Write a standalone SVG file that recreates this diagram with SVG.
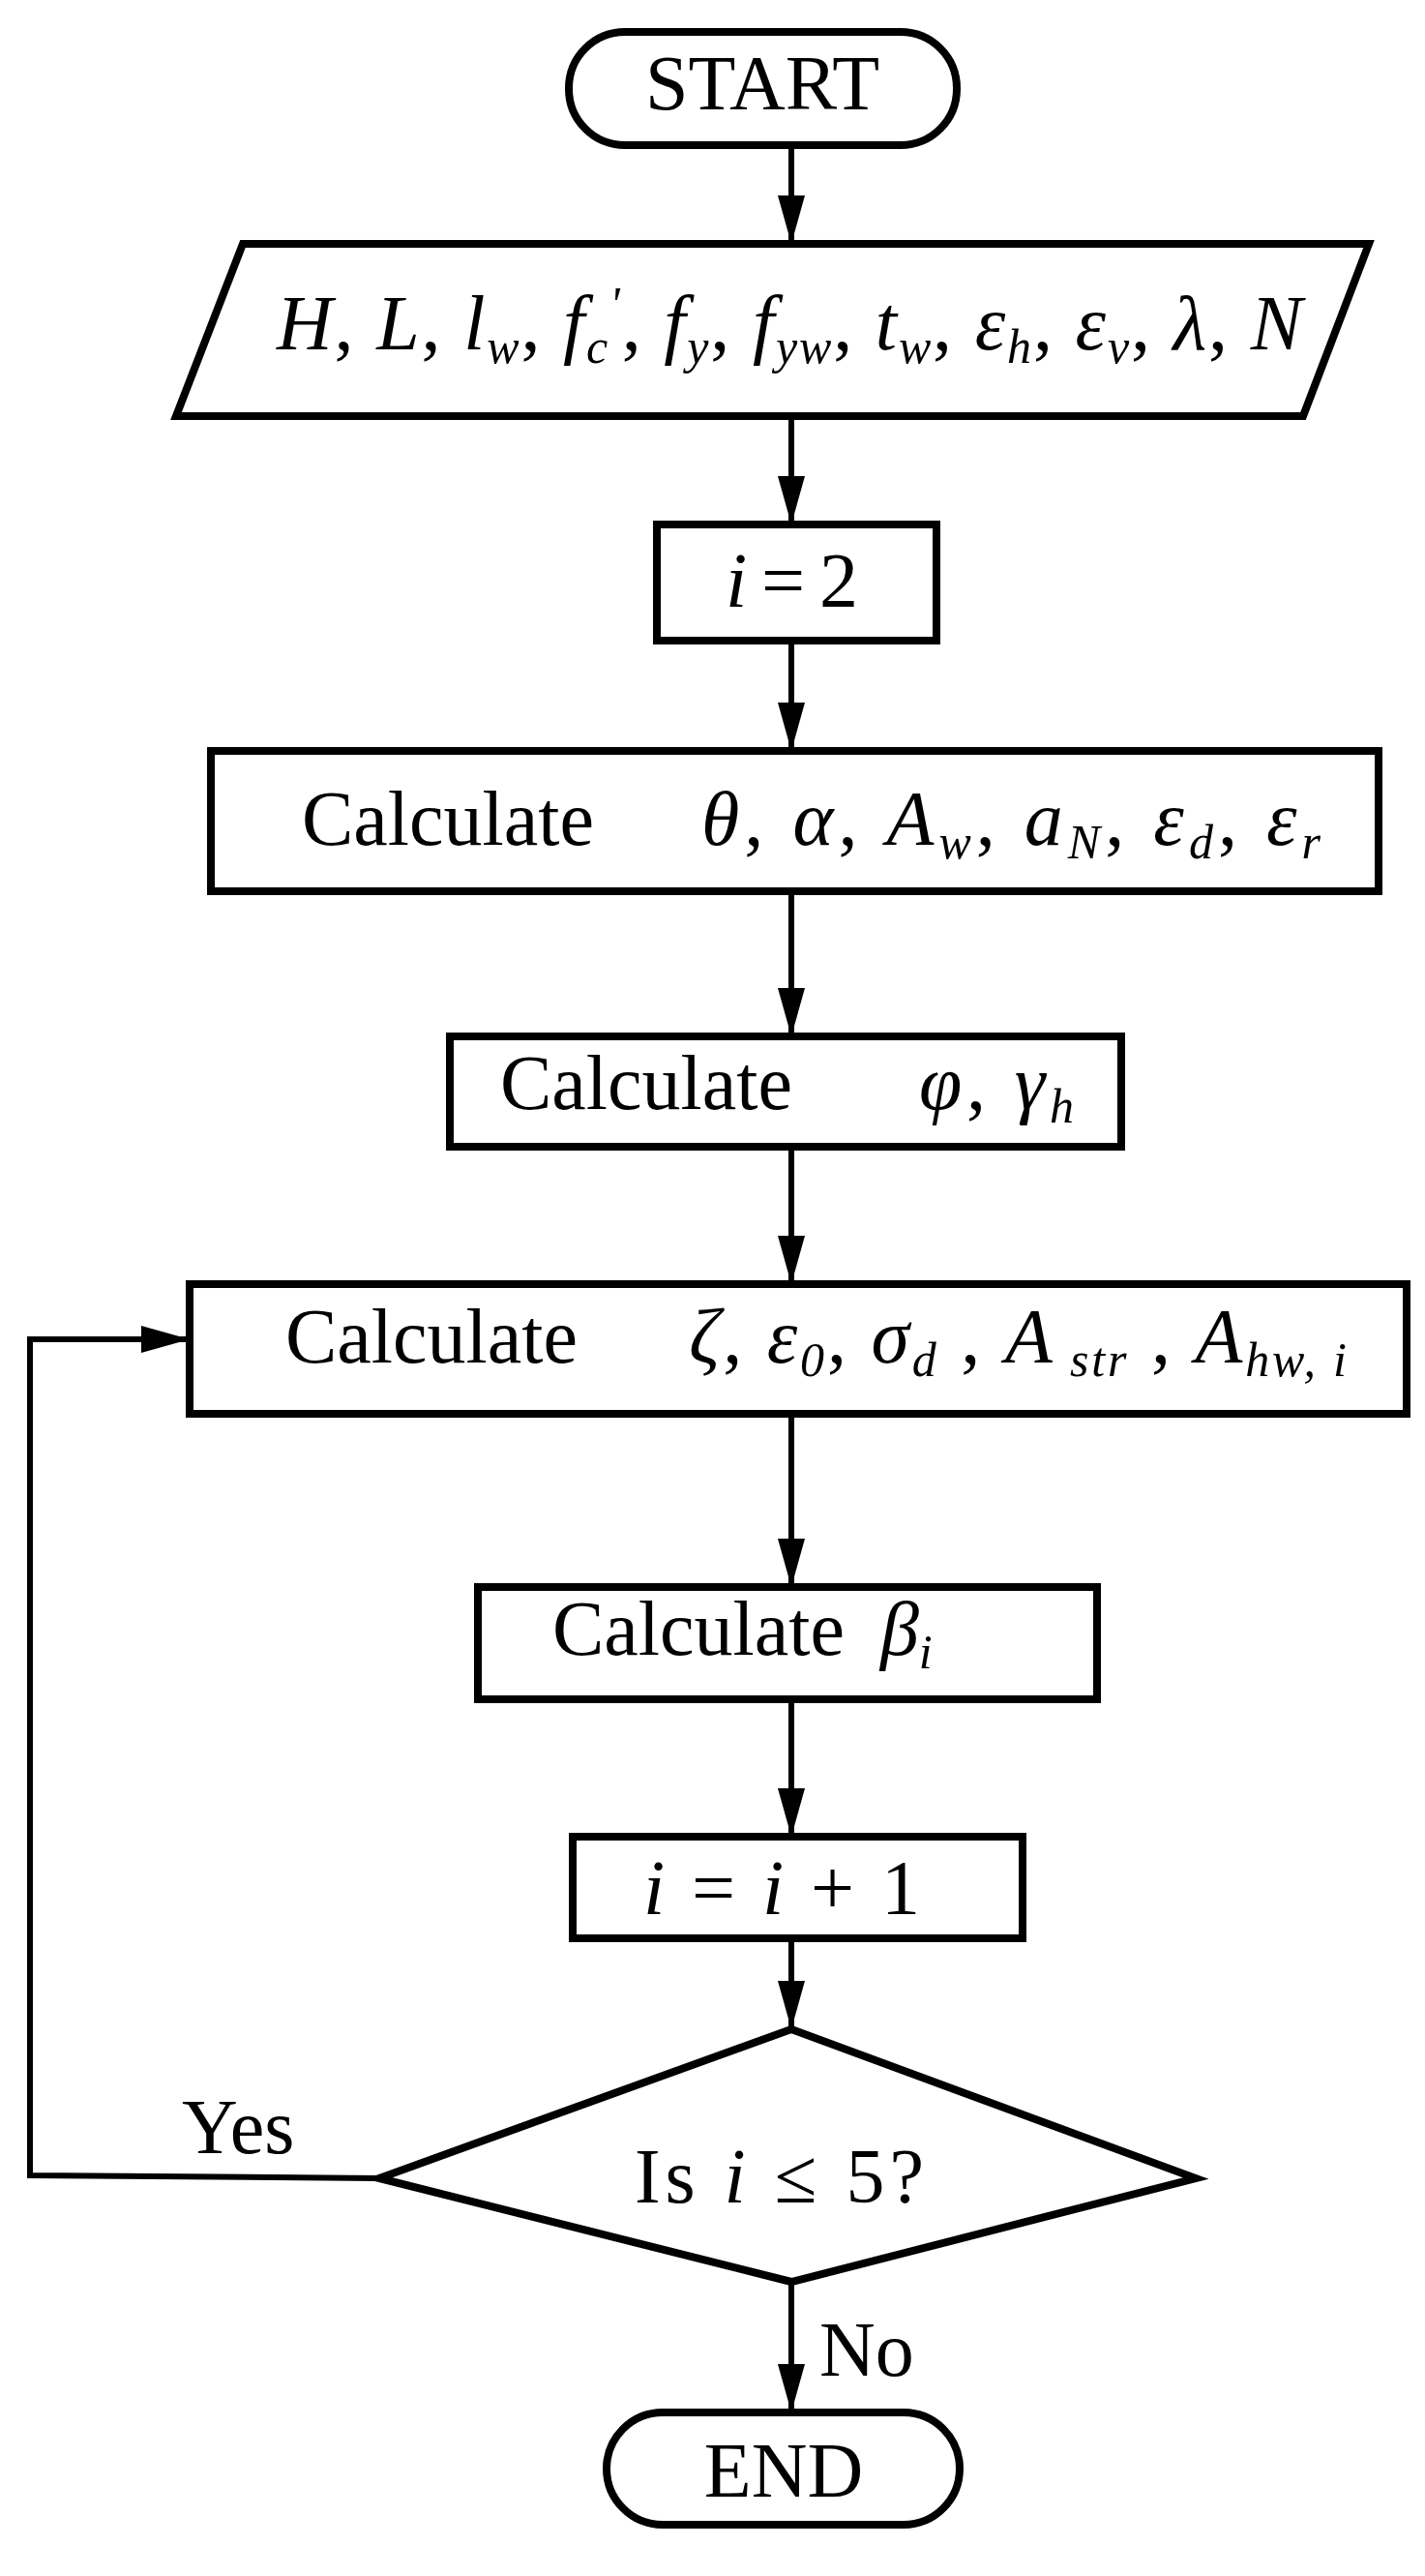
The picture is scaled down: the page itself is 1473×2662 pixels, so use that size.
<svg xmlns="http://www.w3.org/2000/svg" width="1473" height="2662" viewBox="0 0 1473 2662">
<style>
.s{fill:#fff;stroke:#000;stroke-width:8;stroke-linejoin:miter}
.l{fill:none;stroke:#000;stroke-width:6}
text{font-family:"Liberation Serif","Times New Roman",serif;font-size:80px;fill:#000}
.m{font-style:italic}
.b{font-size:50px;font-style:italic}
</style>
<defs>
<marker id="ad" viewBox="0 0 50 28" refX="50" refY="14" markerWidth="50" markerHeight="28" orient="auto" markerUnits="userSpaceOnUse"><path d="M0,0L50,14L0,28z" fill="#000"/></marker></defs>
<g id="connectors">
<line class="l" x1="818" y1="150" x2="818" y2="252" marker-end="url(#ad)"/>
<line class="l" x1="818" y1="430" x2="818" y2="542" marker-end="url(#ad)"/>
<line class="l" x1="818" y1="662" x2="818" y2="776" marker-end="url(#ad)"/>
<line class="l" x1="818" y1="921" x2="818" y2="1071" marker-end="url(#ad)"/>
<line class="l" x1="818" y1="1185" x2="818" y2="1327" marker-end="url(#ad)"/>
<line class="l" x1="818" y1="1461" x2="818" y2="1640" marker-end="url(#ad)"/>
<line class="l" x1="818" y1="1756" x2="818" y2="1898" marker-end="url(#ad)"/>
<line class="l" x1="818" y1="2003" x2="818" y2="2097" marker-end="url(#ad)"/>
<line class="l" x1="818" y1="2358" x2="818" y2="2493" marker-end="url(#ad)"/>
<polyline class="l" points="392,2251 31,2248 31,1384 196,1384" marker-end="url(#ad)"/>
<text x="188" y="2225">Yes</text>
<text x="847" y="2455">No</text>
</g>
<g id="start"><rect class="s" x="588" y="33" width="401" height="117" rx="58" ry="58"/>
<text x="788" y="113" text-anchor="middle">START</text></g>
<g id="input"><polygon class="s" points="251,252 1415,252 1347,430 182,430"/>
<text x="286" y="361" class="m" textLength="1060" lengthAdjust="spacing">H<tspan font-style="normal">, </tspan>L<tspan font-style="normal">, </tspan>l<tspan class="b" dy="14">w</tspan><tspan dy="-14" font-style="normal">, </tspan>f<tspan class="b" dy="14">c</tspan><tspan class="b" dy="-44" font-style="normal">'</tspan><tspan dy="30" font-style="normal">, </tspan>f<tspan class="b" dy="14">y</tspan><tspan dy="-14" font-style="normal">, </tspan>f<tspan class="b" dy="14">yw</tspan><tspan dy="-14" font-style="normal">, </tspan>t<tspan class="b" dy="14">w</tspan><tspan dy="-14" font-style="normal">, </tspan>ε<tspan class="b" dy="14">h</tspan><tspan dy="-14" font-style="normal">, </tspan>ε<tspan class="b" dy="14">v</tspan><tspan dy="-14" font-style="normal">, </tspan>λ<tspan font-style="normal">, </tspan>N</text></g>
<g id="init"><rect class="s" x="679" y="542" width="289" height="120"/>
<text x="750" y="627" textLength="137" lengthAdjust="spacing"><tspan class="m">i</tspan> = 2</text></g>
<g id="calc1"><rect class="s" x="218" y="776" width="1207" height="145"/>
<text x="312" y="873">Calculate</text>
<text x="725" y="873" textLength="640" lengthAdjust="spacing"><tspan class="m">θ</tspan>, <tspan class="m">α</tspan>, <tspan class="m">A</tspan><tspan class="b" dy="14">w</tspan><tspan dy="-14">, </tspan><tspan class="m">a</tspan><tspan class="b" dy="14">N</tspan><tspan dy="-14">, </tspan><tspan class="m">ε</tspan><tspan class="b" dy="14">d</tspan><tspan dy="-14">, </tspan><tspan class="m">ε</tspan><tspan class="b" dy="14">r</tspan></text></g>
<g id="calc2"><rect class="s" x="465" y="1071" width="694" height="114"/>
<text x="517" y="1146">Calculate</text>
<text x="950" y="1146" textLength="160" lengthAdjust="spacing"><tspan class="m">φ</tspan>, <tspan class="m">γ</tspan><tspan class="b" dy="14">h</tspan></text></g>
<g id="calc3"><rect class="s" x="196" y="1327" width="1258" height="134"/>
<text x="295" y="1408">Calculate</text>
<text x="712" y="1408" textLength="680" lengthAdjust="spacing"><tspan class="m">ζ</tspan>, <tspan class="m">ε</tspan><tspan class="b" dy="14" font-style="normal">0</tspan><tspan dy="-14">, </tspan><tspan class="m">σ</tspan><tspan class="b" dy="14">d</tspan><tspan dy="-14"> , </tspan><tspan class="m">A</tspan><tspan class="b" dy="14"> str</tspan><tspan dy="-14"> , </tspan><tspan class="m">A</tspan><tspan class="b" dy="14">hw, i</tspan></text></g>
<g id="calc4"><rect class="s" x="494" y="1640" width="640" height="116"/>
<text x="571" y="1710">Calculate</text>
<text x="910" y="1710"><tspan class="m">β</tspan><tspan class="b" dy="14">i</tspan></text></g>
<g id="incr"><rect class="s" x="592" y="1898" width="465" height="105"/>
<text x="665" y="1978" textLength="286" lengthAdjust="spacing"><tspan class="m">i</tspan> = <tspan class="m">i</tspan> + 1</text></g>
<g id="decision"><polygon class="s" points="818,2097 1236,2251 818,2358 392,2251"/>
<text x="656" y="2276" textLength="299" lengthAdjust="spacing">Is  <tspan class="m">i</tspan> ≤ 5?</text></g>
<g id="end"><rect class="s" x="627" y="2493" width="365" height="116" rx="58" ry="58"/>
<text x="810" y="2580" text-anchor="middle">END</text></g>
</svg>
